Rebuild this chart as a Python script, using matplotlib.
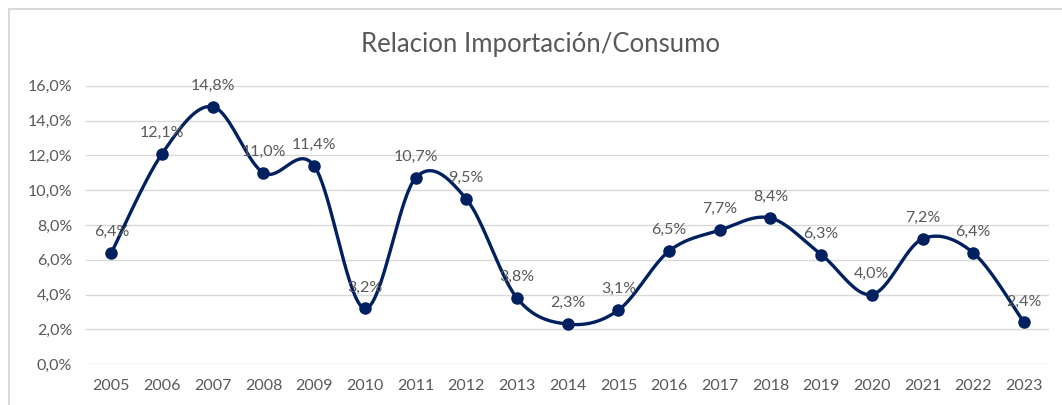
import matplotlib
matplotlib.use("Agg")
import matplotlib.pyplot as plt
import numpy as np
from matplotlib.patches import Rectangle

years = ["2005", "2006", "2007", "2008", "2009", "2010", "2011", "2012", "2013", "2014",
         "2015", "2016", "2017", "2018", "2019", "2020", "2021", "2022", "2023"]
values = [6.4, 12.1, 14.8, 11.0, 11.4, 3.2, 10.7, 9.5, 3.8, 2.3,
          3.1, 6.5, 7.7, 8.4, 6.3, 4.0, 7.2, 6.4, 2.4]
yticks = [0, 2, 4, 6, 8, 10, 12, 14, 16]
title = "Relacion Importación/Consumo"

plt.rcParams['font.family'] = ['Lato', 'DejaVu Sans']
navy = "#002060"
gray = "#595959"

fig = plt.figure(figsize=(10.62, 4.05), dpi=100)
ax = fig.add_axes([0.081, 0.101, 0.907, 0.687])

x = np.arange(len(values))
y = np.array(values)

# Excel-like smoothing (Catmull-Rom via cubic Bezier segments)
xs, ys = [], []
n = len(x)
for i in range(n - 1):
    p0 = np.array([x[max(i - 1, 0)], y[max(i - 1, 0)]])
    p1 = np.array([x[i], y[i]])
    p2 = np.array([x[i + 1], y[i + 1]])
    p3 = np.array([x[min(i + 2, n - 1)], y[min(i + 2, n - 1)]])
    c1 = p1 + (p2 - p0) / 6.0
    c2 = p2 - (p3 - p1) / 6.0
    t = np.linspace(0, 1, 40)[:, None]
    seg = ((1 - t) ** 3) * p1 + 3 * ((1 - t) ** 2) * t * c1 + 3 * (1 - t) * t ** 2 * c2 + t ** 3 * p2
    xs.extend(seg[:, 0]); ys.extend(seg[:, 1])

ax.plot(xs, ys, color=navy, lw=2.4, zorder=3, solid_capstyle='round')
ax.plot(x, y, 'o', color=navy, ms=8, zorder=4)

for xi, yi in zip(x, y):
    ax.annotate(f"{yi:.1f}%".replace(".", ","), (xi, yi), xytext=(0, 10),
                textcoords="offset points", ha="center", va="bottom",
                fontsize=11.5, color=gray, zorder=5)

ax.set_xlim(-0.5, n - 0.5)
ax.set_ylim(0, 16)
ax.set_yticks(yticks)
ax.set_yticklabels([f"{v:.1f}%".replace(".", ",") for v in yticks])
ax.set_xticks(x)
ax.set_xticklabels(years)
ax.tick_params(axis='both', length=0, labelsize=11.5, labelcolor=gray)
ax.tick_params(axis='x', pad=11)
ax.tick_params(axis='y', pad=10)
ax.grid(axis='y', color="#d9d9d9", lw=1)
ax.set_axisbelow(True)
for s in ax.spines.values():
    s.set_visible(False)

fig.text(0.509, 0.889, title, ha="center", va="center", fontsize=18.5, color=gray)

fig.patches.append(Rectangle((9 / 1062, -0.1), 1.2, 1 - 9 / 405 + 0.1, transform=fig.transFigure,
                             fill=False, edgecolor="#d9d9d9", lw=1.5, zorder=0))

fig.savefig("out.png", dpi=100)
